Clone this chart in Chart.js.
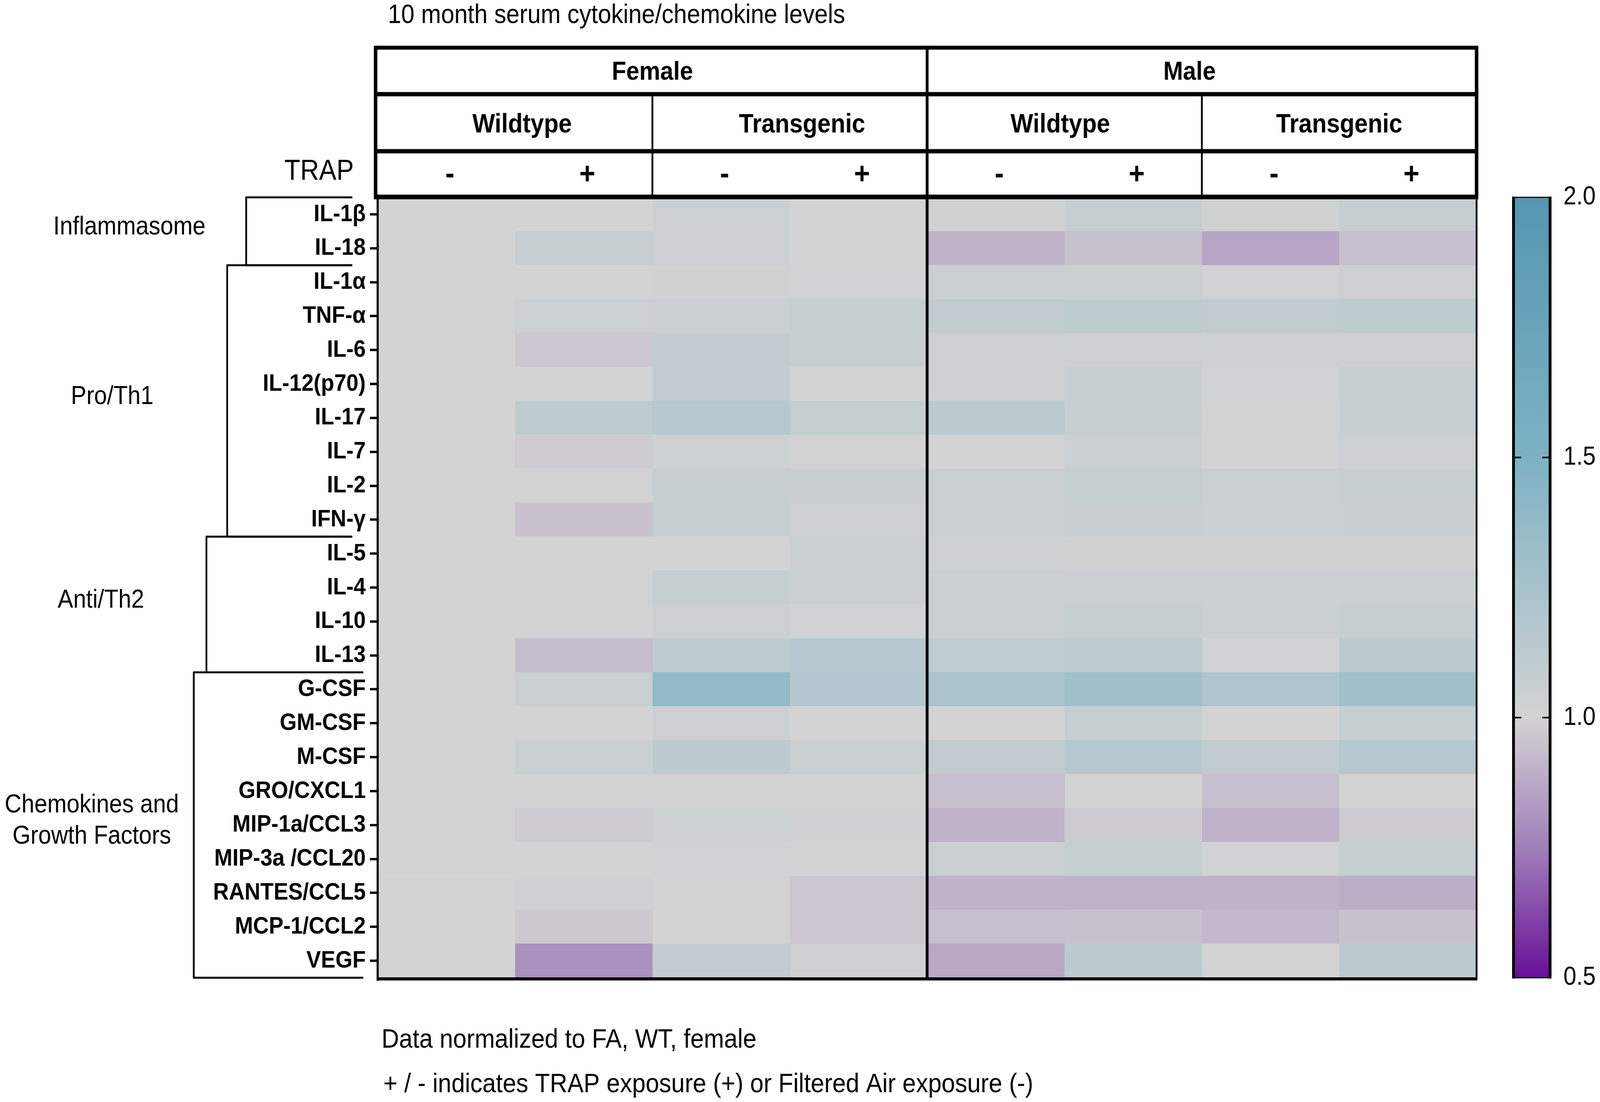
<!DOCTYPE html>
<html>
<head>
<meta charset="utf-8">
<title>10 month serum cytokine/chemokine levels</title>
<script src="https://cdn.jsdelivr.net/npm/chart.js@4.4.1/dist/chart.umd.min.js"></script>
<style>
  html, body { margin: 0; padding: 0; background: #fff; overflow: hidden; }
  #wrap { position: absolute; left: 0; top: 0; width: 4550px; height: 2820px; transform-origin: 0 0; }
</style>
</head>
<body>
<div id="wrap"><canvas id="heat"></canvas></div>
<script>
// rows of the heatmap
var cytokines = ["IL-1β", "IL-18", "IL-1α", "TNF-α", "IL-6", "IL-12(p70)", "IL-17", "IL-7", "IL-2", "IFN-γ",
  "IL-5", "IL-4", "IL-10", "IL-13", "G-CSF", "GM-CSF", "M-CSF", "GRO/CXCL1", "MIP-1a/CCL3",
  "MIP-3a /CCL20", "RANTES/CCL5", "MCP-1/CCL2", "VEGF"];

// header of the columns
var sexes = ["Female", "Male"];
var genotypes = ["Wildtype", "Transgenic", "Wildtype", "Transgenic"];
var trapSigns = ["-", "+", "-", "+", "-", "+", "-", "+"];

// groups on the left
var groupNames = [["Inflammasome"], ["Pro/Th1"], ["Anti/Th2"], ["Chemokines and", "Growth Factors"]];
var groupFirst = ["IL-1β", "IL-1α", "IL-5", "G-CSF"];
var groupLast = ["IL-18", "IFN-γ", "IL-13", "VEGF"];

// values normalized to FA, WT, female (one array per column)
var femaleWtFA   = [1.00, 1.00, 1.00, 1.00, 1.00, 1.00, 1.00, 1.00, 1.00, 1.00, 1.00, 1.00, 1.00, 1.00, 1.00, 1.00, 1.00, 1.00, 1.00, 1.00, 1.00, 1.00, 1.00];
var femaleWtTRAP = [1.00, 1.07, 1.00, 1.04, 0.96, 1.00, 1.12, 0.98, 1.00, 0.95, 1.00, 1.00, 1.00, 0.93, 1.05, 1.00, 1.05, 1.00, 0.98, 1.00, 0.99, 0.97, 0.80];
var femaleTgFA   = [1.04, 1.04, 1.02, 1.05, 1.10, 1.10, 1.16, 1.03, 1.07, 1.08, 1.00, 1.08, 1.04, 1.12, 1.38, 1.04, 1.13, 1.00, 1.03, 1.01, 1.00, 1.00, 1.10];
var femaleTgTRAP = [1.00, 1.00, 1.01, 1.08, 1.07, 1.00, 1.08, 1.00, 1.06, 1.04, 1.05, 1.05, 1.01, 1.16, 1.18, 1.00, 1.05, 1.00, 0.99, 1.00, 0.96, 0.96, 1.04];
var maleWtFA     = [1.02, 0.90, 1.05, 1.10, 1.04, 1.03, 1.14, 1.00, 1.05, 1.05, 1.03, 1.05, 1.05, 1.11, 1.24, 1.00, 1.10, 0.94, 0.90, 1.05, 0.90, 0.94, 0.87];
var maleWtTRAP   = [1.07, 0.945, 1.05, 1.12, 1.04, 1.07, 1.07, 1.05, 1.08, 1.06, 1.02, 1.05, 1.08, 1.12, 1.29, 1.08, 1.17, 1.00, 0.98, 1.08, 0.90, 0.95, 1.13];
var maleTgFA     = [1.02, 0.86, 1.01, 1.10, 1.03, 1.01, 1.00, 1.00, 1.05, 1.05, 1.02, 1.05, 1.05, 1.01, 1.21, 1.00, 1.10, 0.94, 0.90, 1.01, 0.90, 0.92, 1.00];
var maleTgTRAP   = [1.07, 0.94, 1.04, 1.12, 1.04, 1.07, 1.07, 1.04, 1.07, 1.06, 1.02, 1.05, 1.08, 1.13, 1.29, 1.08, 1.17, 1.00, 0.98, 1.08, 0.89, 0.95, 1.13];

// colour scale
var colorTicks = [0.5, 1.0, 1.5, 2.0];
var colorStops = [0.5, 0.75, 1.0, 1.5, 2.0];
var stopColors = [[104, 16, 152], [160, 128, 186], [211, 211, 211], [125, 178, 196], [86, 150, 178]];

var FONT = "'Liberation Sans', Arial, Helvetica, sans-serif";

// the layout is drawn for 4550 x 2820, squeeze it into whatever window we get
var wrap = document.getElementById("wrap");
wrap.style.transform = "scale(" + (window.innerWidth / 4550) + "," + (window.innerHeight / 2820) + ")";

function colorFor(v) {
  v = Math.max(colorStops[0], Math.min(colorStops[colorStops.length - 1], v));
  for (var i = 0; i < colorStops.length - 1; i++) {
    if (v <= colorStops[i + 1]) {
      var t = (v - colorStops[i]) / (colorStops[i + 1] - colorStops[i]);
      var a = stopColors[i], b = stopColors[i + 1];
      return "rgb(" + Math.round(a[0] + (b[0] - a[0]) * t) + "," +
        Math.round(a[1] + (b[1] - a[1]) * t) + "," +
        Math.round(a[2] + (b[2] - a[2]) * t) + ")";
    }
  }
  return "rgb(" + stopColors[stopColors.length - 1].join(",") + ")";
}

var columns = [femaleWtFA, femaleWtTRAP, femaleTgFA, femaleTgTRAP, maleWtFA, maleWtTRAP, maleTgFA, maleTgTRAP];
var columnNames = ["Female WT FA", "Female WT TRAP", "Female TG FA", "Female TG TRAP",
  "Male WT FA", "Male WT TRAP", "Male TG FA", "Male TG TRAP"];

var datasets = columns.map(function(vals, c) {
  return {
    label: columnNames[c],
    data: vals.map(function() { return 1; }),
    backgroundColor: vals.map(colorFor),
    borderWidth: 0,
    barPercentage: 1,
    categoryPercentage: 1
  };
});

function line(ctx, x1, y1, x2, y2, w) {
  ctx.lineWidth = w;
  ctx.beginPath();
  ctx.moveTo(x1, y1);
  ctx.lineTo(x2, y2);
  ctx.stroke();
}

function text(ctx, str, x, y, size, bold, align) {
  ctx.font = (bold ? "bold " : "") + size + "px " + FONT;
  ctx.textAlign = align || "center";
  ctx.textBaseline = "middle";
  ctx.fillText(str, x, y);
}

// header table, brackets, colour bar and notes
var decorations = {
  id: "decorations",
  afterDraw: function(chart) {
    var ctx = chart.ctx, area = chart.chartArea;
    var xs = chart.scales.x, ys = chart.scales.y, cb = chart.scales.cb;
    var px = function(c) { return xs.getPixelForValue(c); };
    var rowH = (area.bottom - area.top) / cytokines.length;

    ctx.save();
    ctx.strokeStyle = "#000";
    ctx.fillStyle = "#000";
    ctx.lineCap = "butt";

    // title
    text(ctx, "10 month serum cytokine/chemokine levels", 1103, 40, 68, false, "left");

    // header table
    var hTop = area.top - 383, hMid1 = area.top - 264, hMid2 = area.top - 118;
    line(ctx, area.left - 11, hTop, area.right + 5, hTop, 10);
    line(ctx, area.left - 11, hMid1, area.right + 5, hMid1, 11);
    line(ctx, area.left - 11, hMid2, area.right + 5, hMid2, 11);
    line(ctx, area.left - 11, area.top - 1, area.right + 5, area.top - 1, 12);
    line(ctx, area.left - 6, hTop - 5, area.left - 6, area.top, 10);
    line(ctx, area.right, hTop - 5, area.right, area.top, 10);
    line(ctx, px(4), hTop, px(4), area.bottom, 8);
    line(ctx, px(2), hMid1, px(2), area.top, 5);
    line(ctx, px(6), hMid1, px(6), area.top, 5);

    var sexShift = [0, -35];
    var genoShift = [20, 35, -12, 0];
    sexes.forEach(function(s, i) {
      text(ctx, s, (px(i * 4) + px(i * 4 + 4)) / 2 + sexShift[i], (hTop + hMid1) / 2 + 4, 67, true);
    });
    genotypes.forEach(function(g, i) {
      text(ctx, g, (px(i * 2) + px(i * 2 + 2)) / 2 + genoShift[i], (hMid1 + hMid2) / 2 + 6, 68, true);
    });
    trapSigns.forEach(function(s, i) {
      text(ctx, s, px(i + 0.5) + 10, (hMid2 + area.top) / 2 + 2, 78, true);
    });
    text(ctx, "TRAP", area.left - 68, (hMid2 + area.top) / 2 - 6, 74, false, "right");

    // heatmap frame
    line(ctx, area.left, area.top, area.left, area.bottom + 8, 6);
    line(ctx, area.right, area.top, area.right, area.bottom + 4, 5);
    line(ctx, area.left - 3, area.bottom + 3, area.right + 2, area.bottom + 3, 8);

    // group brackets
    var bracketX = [700, 646, 587, 551];
    var bracketEnd = [1002, 1002, 1000, 1033];
    var labelX = [368, 319, 287, 261];
    groupNames.forEach(function(names, g) {
      var top = ys.getPixelForValue(cytokines.indexOf(groupFirst[g])) - rowH / 2;
      var bot = ys.getPixelForValue(cytokines.indexOf(groupLast[g])) + rowH / 2;
      line(ctx, bracketX[g], top, bracketX[g], bot, 5);
      line(ctx, bracketX[g] - 2, top, bracketEnd[g], top, 5);
      line(ctx, bracketX[g] - 2, bot, bracketEnd[g], bot, 5);
      var mid = (top + bot) / 2 - 10;
      names.forEach(function(n, k) {
        text(ctx, n, labelX[g], mid + (k - (names.length - 1) / 2) * 80, 66, false);
      });
    });

    // colour bar, positioned by its own linear scale
    var cbL = area.right + 105, cbR = area.right + 209;
    var cbTop = cb.getPixelForValue(colorTicks[colorTicks.length - 1]);
    var cbBot = cb.getPixelForValue(colorTicks[0]);
    var grad = ctx.createLinearGradient(0, cbTop, 0, cbBot);
    colorStops.forEach(function(v) {
      grad.addColorStop((cb.getPixelForValue(v) - cbTop) / (cbBot - cbTop), colorFor(v));
    });
    ctx.fillStyle = grad;
    ctx.fillRect(cbL, cbTop, cbR - cbL, cbBot - cbTop);
    ctx.fillStyle = "#000";
    line(ctx, cbL, cbTop - 2, cbL, cbBot + 2, 8);
    line(ctx, cbR, cbTop - 2, cbR, cbBot + 2, 8);
    line(ctx, cbL, cbTop, cbR, cbTop, 3);
    line(ctx, cbL, cbBot, cbR, cbBot, 3);
    colorTicks.forEach(function(v) {
      var yy = cb.getPixelForValue(v);
      text(ctx, v.toFixed(1), cbR + 38, yy, 66, false, "left");
      if (v === colorTicks[0] || v === colorTicks[colorTicks.length - 1]) return;
      line(ctx, cbL + 4, yy, cbL + 22, yy, 4);
      line(ctx, cbR - 22, yy, cbR - 4, yy, 4);
    });

    // notes
    text(ctx, "Data normalized to FA, WT, female", 1085, 2662, 69, false, "left");
    text(ctx, "+ / - indicates TRAP exposure (+) or Filtered Air exposure (-)", 1090, 2776, 69, false, "left");

    ctx.restore();
  }
};

new Chart(document.getElementById("heat").getContext("2d"), {
  type: "bar",
  data: { labels: cytokines, datasets: datasets },
  options: {
    indexAxis: "y",
    responsive: true,
    maintainAspectRatio: false,
    devicePixelRatio: 1,
    animation: false,
    layout: { padding: { left: 0, right: 0, top: 505, bottom: 318 } },
    plugins: { legend: { display: false }, title: { display: false }, tooltip: { enabled: false } },
    scales: {
      x: { type: "linear", stacked: true, min: 0, max: columns.length, display: false },
      y: {
        type: "category",
        stacked: true,
        offset: true,
        grid: { offset: false, drawOnChartArea: false, drawTicks: true, tickLength: 22, tickWidth: 6, tickColor: "#000" },
        border: { display: false },
        ticks: { color: "#000", autoSkip: false, padding: 12, font: { family: FONT, size: 62, weight: "bold" } },
        afterFit: function(s) { s.width = 1074; }
      },
      cb: {
        type: "linear",
        position: "right",
        offset: false,
        min: colorTicks[0],
        max: colorTicks[colorTicks.length - 1],
        grid: { display: false, drawTicks: false },
        border: { display: false },
        ticks: { display: false, padding: 0 },
        afterFit: function(s) { s.width = 351; }
      }
    }
  },
  plugins: [decorations]
});
</script>
</body>
</html>
